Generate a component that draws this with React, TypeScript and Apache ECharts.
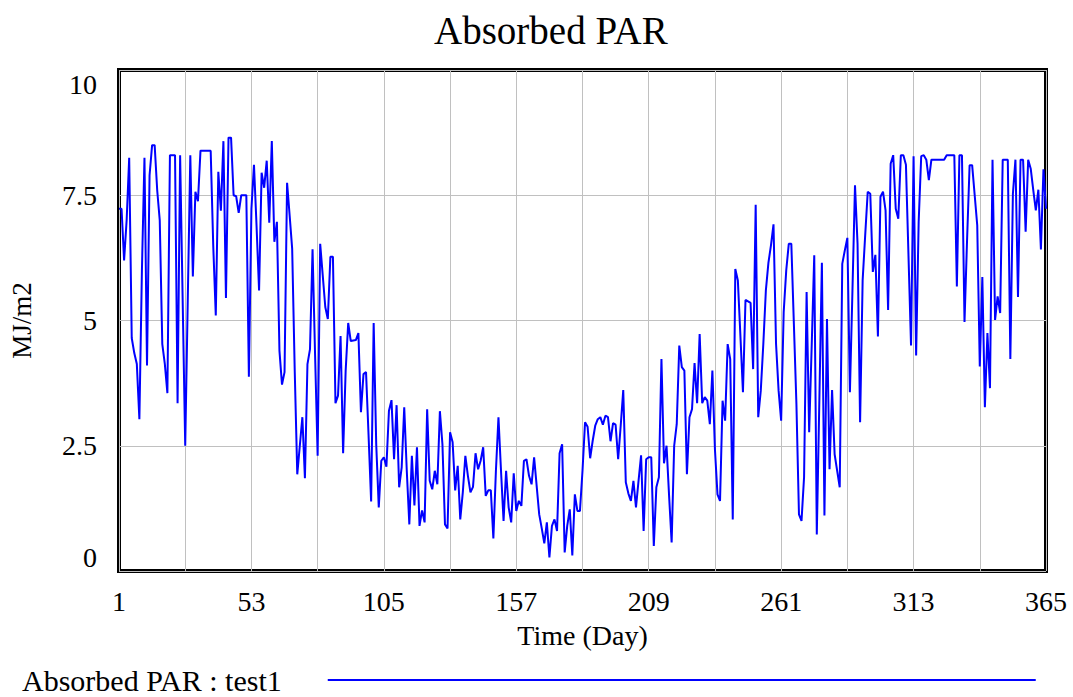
import React, { useEffect, useRef } from "react";
import * as echarts from "echarts";

const chartTitle = "Absorbed PAR";
const seriesName = "Absorbed PAR : test1";
const xAxisName = "Time (Day)";
const yAxisName = "MJ/m2";

// Days 1..365 (category labels)
const days: string[] = Array.from({ length: 365 }, (_, i) => String(i + 1));

// Absorbed PAR (MJ/m2), one value per day
const absorbedPar: number[] = [
  // 1-10
  7.23, 7.23, 6.2, 7.0, 8.25, 4.65, 4.35, 4.13, 3.03, 6.0,
  // 11-20
  8.25, 4.1, 7.9, 8.5, 8.5, 7.6, 7.0, 4.53, 4.13, 3.55,
  // 21-30
  8.3, 8.3, 8.3, 3.35, 8.3, 5.4, 2.5, 5.4, 8.3, 5.88,
  // 31-40
  7.57, 7.38, 8.39, 8.39, 8.39, 8.39, 8.39, 6.5, 5.1, 7.97,
  // 41-50
  7.19, 8.58, 5.45, 8.65, 8.65, 7.5, 7.48, 7.15, 7.5, 7.5,
  // 51-60
  7.5, 3.88, 7.23, 8.11, 6.9, 5.6, 7.95, 7.65, 8.19, 6.95,
  // 61-70
  8.58, 6.57, 6.97, 4.4, 3.72, 3.97, 7.75, 7.1, 6.43, 4.0,
  // 71-80
  1.93, 2.5, 3.07, 1.85, 4.13, 4.43, 6.42, 4.3, 2.3, 6.53,
  // 81-90
  5.9, 5.27, 5.03, 6.27, 6.27, 3.35, 3.5, 4.69, 2.35, 4.0,
  // 91-100
  4.95, 4.59, 4.6, 4.61, 4.75, 3.17, 3.93, 3.97, 2.7, 1.39,
  // 101-110
  4.95, 2.53, 1.27, 2.2, 2.27, 2.08, 3.2, 3.41, 2.23, 3.31,
  // 111-120
  1.67, 2.07, 3.27, 2.0, 0.93, 2.3, 1.31, 2.47, 0.9, 1.21,
  // 121-130
  0.97, 3.23, 1.8, 1.63, 2.0, 1.73, 3.19, 2.53, 0.93, 0.85,
  // 131-140
  2.77, 2.57, 1.61, 2.1, 1.03, 1.57, 2.3, 1.9, 1.57, 1.68,
  // 141-150
  2.35, 2.03, 2.2, 2.47, 1.5, 1.61, 1.61, 0.65, 2.0, 3.07,
  // 151-160
  2.0, 1.0, 2.0, 1.27, 0.97, 1.95, 1.2, 1.4, 1.3, 2.2,
  // 161-170
  2.23, 1.9, 1.73, 2.27, 1.7, 1.13, 0.85, 0.55, 0.97, 0.27,
  // 171-180
  0.9, 1.03, 0.8, 2.35, 2.53, 0.37, 0.9, 1.23, 0.31, 1.53,
  // 181-190
  1.2, 1.2, 2.0, 2.97, 2.88, 2.25, 2.6, 2.9, 3.03, 3.07,
  // 191-200
  2.92, 3.1, 3.07, 2.59, 2.95, 2.92, 2.23, 2.9, 3.61, 1.77,
  // 201-210
  1.55, 1.4, 1.8, 1.27, 1.8, 2.31, 0.8, 2.23, 2.27, 2.27,
  // 211-220
  0.5, 1.67, 1.87, 4.23, 2.15, 2.5, 1.5, 0.57, 2.5, 2.93,
  // 221-230
  4.5, 4.07, 4.0, 1.93, 3.07, 3.23, 4.15, 3.35, 4.73, 3.35,
  // 231-240
  3.47, 3.4, 2.93, 4.0, 2.43, 1.53, 1.4, 3.4, 3.0, 4.53,
  // 241-250
  4.23, 1.03, 6.03, 5.8, 4.7, 3.57, 5.41, 5.38, 5.35, 4.03,
  // 251-260
  7.31, 3.07, 3.6, 4.53, 5.6, 6.15, 6.5, 6.92, 4.53, 3.6,
  // 261-270
  3.0, 5.17, 6.0, 6.53, 6.53, 4.93, 3.33, 1.13, 1.0, 1.87,
  // 271-280
  5.57, 2.77, 4.5, 6.3, 0.73, 3.4, 6.15, 1.11, 5.03, 2.03,
  // 281-290
  3.61, 2.33, 2.0, 1.67, 6.13, 6.4, 6.65, 3.57, 5.6, 7.7,
  // 291-300
  6.53, 2.97, 5.8, 6.7, 7.57, 7.53, 5.97, 6.31, 4.68, 7.47,
  // 301-310
  7.57, 7.2, 5.21, 8.13, 8.3, 7.23, 7.03, 8.3, 8.3, 8.11,
  // 311-320
  6.3, 4.5, 8.28, 4.3, 6.97, 8.28, 8.3, 8.21, 7.8, 8.21,
  // 321-330
  8.21, 8.21, 8.21, 8.21, 8.21, 8.3, 8.3, 8.3, 8.3, 5.68,
  // 331-340
  8.3, 8.3, 4.97, 6.6, 8.1, 8.1, 7.5, 6.9, 4.08, 5.87,
  // 341-350
  3.27, 4.75, 3.65, 8.21, 5.01, 5.48, 5.15, 8.21, 8.21, 8.21,
  // 351-360
  4.23, 7.53, 8.21, 5.47, 8.21, 8.21, 6.77, 8.21, 8.03, 7.6,
  // 361-365
  7.2, 7.61, 6.42, 8.02, 7.23,
];

const yMin = 0;
const yMax = 10;
const yStep = 2.5;
const labelEvery = 52; // days between x tick labels
const gridEvery = 26; // days between vertical grid lines

const FONT = "'Liberation Serif', 'Times New Roman', serif";

export default function App() {
  const ref = useRef<HTMLDivElement>(null);

  useEffect(() => {
    if (!ref.current) return;
    const chart = echarts.init(ref.current, undefined, { renderer: "svg" });
    chart.setOption({
      animation: false,
      backgroundColor: "#ffffff",
      title: {
        text: chartTitle,
        left: 429,
        top: 6,
        textStyle: { fontFamily: FONT, fontSize: 39, fontWeight: "normal", color: "#000" },
      },
      legend: {
        left: 22,
        top: 665,
        padding: 0,
        align: "right",
        icon: "rect",
        itemWidth: 708,
        itemHeight: 2,
        itemGap: 0,
        textStyle: { fontFamily: FONT, fontSize: 30, color: "#000", padding: [0, 41, 0, 0] },
        data: [seriesName],
      },
      grid: {
        left: 119,
        top: 70,
        width: 927,
        height: 501,
        show: true,
        borderColor: "#000",
        borderWidth: 4,
        backgroundColor: "transparent",
      },
      xAxis: {
        type: "category",
        data: days,
        boundaryGap: false,
        name: xAxisName,
        nameLocation: "middle",
        nameGap: 50,
        nameTextStyle: { fontFamily: FONT, fontSize: 28, color: "#000" },
        axisLine: { show: false },
        axisTick: { show: false },
        axisLabel: {
          interval: (i: number) => i % labelEvery === 0,
          margin: 16,
          fontFamily: FONT,
          fontSize: 28,
          color: "#000",
        },
        splitLine: {
          show: true,
          interval: (i: number) => i % gridEvery === 0,
          lineStyle: { color: "#c0c0c0", width: 1 },
        },
      },
      yAxis: {
        type: "value",
        min: yMin,
        max: yMax,
        interval: yStep,
        name: yAxisName,
        nameLocation: "middle",
        nameGap: 84,
        nameRotate: 90,
        nameTextStyle: { fontFamily: FONT, fontSize: 27, color: "#000" },
        axisLine: { show: false },
        axisTick: { show: false },
        axisLabel: {
          margin: 22,
          fontFamily: FONT,
          fontSize: 28,
          color: "#000",
          verticalAlignMaxLabel: "top",
          verticalAlignMinLabel: "bottom",
        },
        splitLine: { show: true, lineStyle: { color: "#c0c0c0", width: 1 } },
      },
      series: [
        {
          name: seriesName,
          type: "line",
          data: absorbedPar,
          showSymbol: false,
          symbol: "none",
          lineStyle: { color: "#0000ff", width: 2 },
          itemStyle: { color: "#0000ff" },
        },
      ],
    });
    return () => chart.dispose();
  }, []);

  return (
    <div
      ref={ref}
      style={{ position: "fixed", left: 0, top: 0, width: 1073, height: 697, background: "#fff" }}
    />
  );
}
